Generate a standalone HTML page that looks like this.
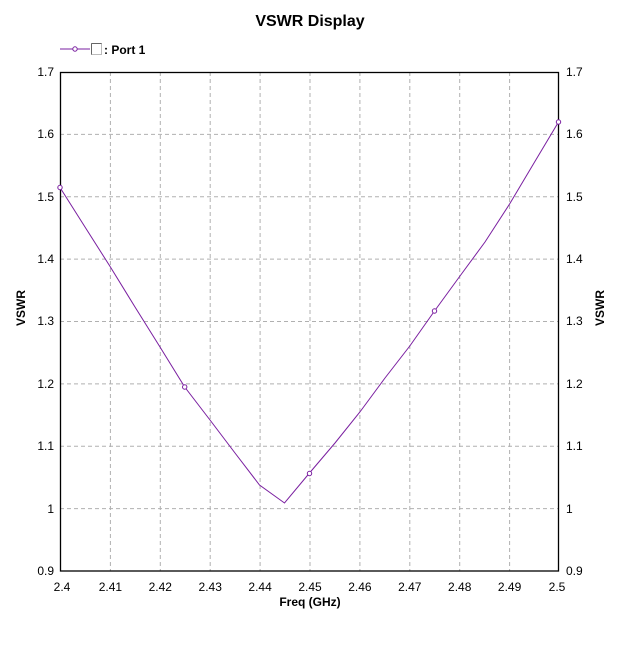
<!DOCTYPE html>
<html><head><meta charset="utf-8"><style>
html,body{margin:0;padding:0;background:#fff;}
svg{display:block;}
text{font-family:"Liberation Sans",Arial,sans-serif;fill:#000;}
</style></head><body>
<svg width="631" height="656" viewBox="0 0 631 656" xmlns="http://www.w3.org/2000/svg">
<rect width="631" height="656" fill="#fff"/>
<text x="310" y="26" font-size="16" font-weight="bold" text-anchor="middle">VSWR Display</text>
<line x1="60" y1="49" x2="90" y2="49" stroke="#7a1fa0" stroke-width="1"/>
<circle cx="75" cy="49" r="2.2" fill="#fff" stroke="#7a1fa0" stroke-width="1"/>
<rect x="91.5" y="43.5" width="10" height="11" fill="#fff" stroke="#bbb"/>
<line x1="91.5" y1="43.5" x2="101.5" y2="43.5" stroke="#666"/>
<line x1="91.5" y1="43.5" x2="91.5" y2="54.5" stroke="#666"/>
<text x="104" y="54" font-size="12" font-weight="bold">: Port 1</text>
<g stroke="#b0b0b0" stroke-width="1" stroke-dasharray="4,3">
<line x1="110.4" y1="72" x2="110.4" y2="571"/>
<line x1="160.3" y1="72" x2="160.3" y2="571"/>
<line x1="210.2" y1="72" x2="210.2" y2="571"/>
<line x1="260.1" y1="72" x2="260.1" y2="571"/>
<line x1="310" y1="72" x2="310" y2="571"/>
<line x1="359.9" y1="72" x2="359.9" y2="571"/>
<line x1="409.8" y1="72" x2="409.8" y2="571"/>
<line x1="459.7" y1="72" x2="459.7" y2="571"/>
<line x1="509.6" y1="72" x2="509.6" y2="571"/>
<line x1="60" y1="134.4" x2="559" y2="134.4"/>
<line x1="60" y1="196.8" x2="559" y2="196.8"/>
<line x1="60" y1="259.1" x2="559" y2="259.1"/>
<line x1="60" y1="321.5" x2="559" y2="321.5"/>
<line x1="60" y1="383.9" x2="559" y2="383.9"/>
<line x1="60" y1="446.2" x2="559" y2="446.2"/>
<line x1="60" y1="508.6" x2="559" y2="508.6"/>
</g>
<rect x="60.5" y="72.5" width="498" height="498.5" fill="none" stroke="#000" stroke-width="1.3"/>
<g font-size="12" text-anchor="end">
<text x="54" y="76">1.7</text><text x="54" y="138">1.6</text><text x="54" y="201">1.5</text>
<text x="54" y="263">1.4</text><text x="54" y="325">1.3</text><text x="54" y="388">1.2</text>
<text x="54" y="450">1.1</text><text x="54" y="513">1</text><text x="54" y="575">0.9</text>
</g>
<g font-size="12" text-anchor="start">
<text x="566" y="76">1.7</text><text x="566" y="138">1.6</text><text x="566" y="201">1.5</text>
<text x="566" y="263">1.4</text><text x="566" y="325">1.3</text><text x="566" y="388">1.2</text>
<text x="566" y="450">1.1</text><text x="566" y="513">1</text><text x="566" y="575">0.9</text>
</g>
<g font-size="12" text-anchor="middle">
<text x="62" y="591">2.4</text><text x="110.4" y="591">2.41</text><text x="160.3" y="591">2.42</text>
<text x="210.2" y="591">2.43</text><text x="260.1" y="591">2.44</text><text x="310" y="591">2.45</text>
<text x="359.9" y="591">2.46</text><text x="409.8" y="591">2.47</text><text x="459.7" y="591">2.48</text>
<text x="509.6" y="591">2.49</text><text x="557" y="591">2.5</text>
</g>
<text x="310" y="606" font-size="12" font-weight="bold" text-anchor="middle">Freq (GHz)</text>
<text transform="translate(25,308) rotate(-90)" font-size="12" font-weight="bold" text-anchor="middle">VSWR</text>
<text transform="translate(604,308) rotate(-90)" font-size="12" font-weight="bold" text-anchor="middle">VSWR</text>
<polyline fill="none" stroke="#7a1fa0" stroke-width="1" points="60,187.5 85,227 110.4,267 135,307 160,347 184.7,387 210,420 235,453 259.5,485 284.5,503 309.5,473 335,443 359.9,412 385,378 409.8,346 434.5,311 460,276 485,242 509.6,204 534,163 558.5,122"/>
<g fill="#fff" stroke="#7a1fa0" stroke-width="1">
<circle cx="60" cy="187.5" r="2.2"/><circle cx="184.7" cy="387" r="2.2"/>
<circle cx="309.5" cy="473.5" r="2.2"/><circle cx="434.5" cy="311" r="2.2"/>
<circle cx="558.5" cy="122" r="2.2"/>
</g>
</svg>
</body></html>
